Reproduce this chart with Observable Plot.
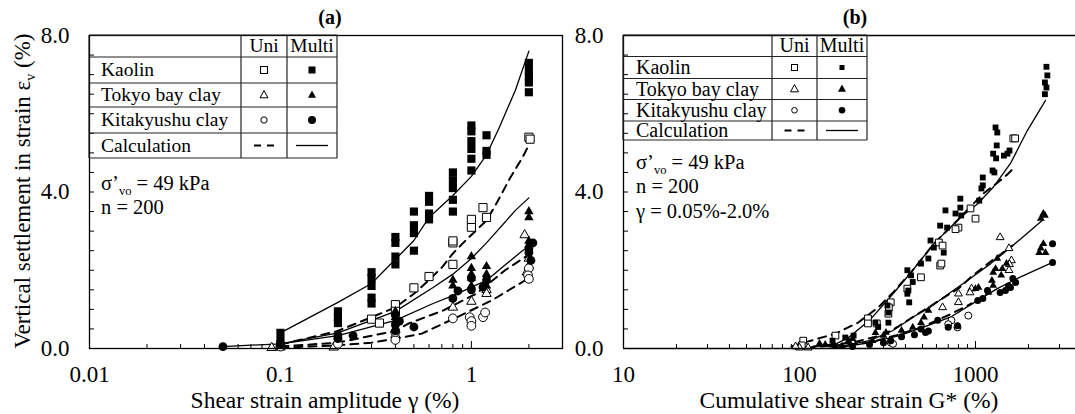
<!DOCTYPE html>
<html><head><meta charset="utf-8">
<script src="https://cdn.jsdelivr.net/npm/d3@7"></script>
<script src="https://cdn.jsdelivr.net/npm/@observablehq/plot@0.6"></script>
<style>
html,body{margin:0;padding:0;background:#fff;}
#wrap{position:relative;width:1075px;height:414px;overflow:hidden;background:#fff;}
#pa,#pb{position:absolute;top:0;}
#pa{left:0;} #pb{left:566px;}
svg{display:block;}
</style>
</head><body>
<div id="wrap"><div id="pa"></div><div id="pb"></div></div>
<script>
const FONT = '"Liberation Serif","Times New Roman",serif';

// ---------- Panel (a): shear strain amplitude (%) vs settlement (%) ----------
const aKaolinMulti = [[0.1,0.4],[0.1,0.2],[0.2,0.95],[0.2,0.8],[0.2,0.65],
  [0.3,1.95],[0.3,1.8],[0.3,1.6],[0.3,1.3],[0.3,1.15],
  [0.4,2.85],[0.4,2.7],[0.4,2.35],[0.4,2.15],
  [0.5,3.5],[0.5,3.15],[0.5,2.95],[0.5,2.5],
  [0.6,3.9],[0.6,3.75],[0.6,3.45],[0.6,3.3],
  [0.8,4.5],[0.8,4.3],[0.8,4.1],[0.8,3.8],[0.8,3.5],
  [1.0,5.7],[1.0,5.55],[1.0,5.3],[1.0,5.1],[1.0,4.85],[1.0,4.55],
  [1.2,5.45],[1.2,5.05],[1.2,4.95],
  [2.0,7.3],[2.0,7.1],[2.0,6.95],[2.0,6.8],[2.0,6.55]];
const aKaolinUni = [[0.3,0.75],[0.33,0.65],[0.4,1.12],[0.4,0.95],[0.5,1.55],[0.6,1.84],
  [0.8,2.15],[0.8,2.7],[0.8,2.75],[1.0,3.1],[1.0,3.3],[1.15,3.6],[1.2,3.35],[2.0,5.4],[2.03,5.35]];
const aTokyoMulti = [[0.1,0.1],[0.1,0.15],[0.2,0.35],[0.2,0.3],[0.4,0.95],[0.4,0.8],[0.4,0.7],
  [0.8,1.6],[0.8,1.75],[1.0,2.35],[1.0,2.05],[1.0,1.9],[1.0,1.8],[1.0,1.6],
  [1.2,2.1],[1.2,1.9],[1.2,1.6],[2.0,3.5],[2.0,3.35],[2.0,2.75],[2.0,2.65]];
const aTokyoUni = [[0.09,0.02],[0.1,0.03],[0.19,0.03],[0.4,0.35],[0.8,1.05],[1.0,1.2],
  [1.2,1.5],[1.2,1.4],[1.9,2.9],[2.0,2.3],[2.0,2.1],[1.95,1.95]];
const aKitaMulti = [[0.05,0.05],[0.1,0.1],[0.1,0.15],[0.2,0.35],[0.2,0.25],[0.24,0.33],
  [0.4,0.85],[0.4,0.6],[0.4,0.45],[0.42,0.7],[0.5,0.55],[0.8,1.28],[0.85,1.47],
  [1.0,1.8],[1.0,1.5],[1.2,1.75],[1.15,1.57],[2.1,2.7],[2.0,2.55],[2.0,2.45],[2.05,2.25]];
const aKitaUni = [[0.1,0.05],[0.2,0.12],[0.4,0.22],[0.4,0.42],[0.8,0.77],
  [0.98,0.8],[1.0,0.7],[1.0,0.58],[1.15,0.8],[1.18,0.92],[2.0,2.05],[1.98,1.87],[2.0,1.78]];
const aCalcKaolinMulti = [[0.1,0.4],[0.2,1.18],[0.3,1.66],[0.5,2.76],[0.6,3.35],[0.8,3.91],
  [1.0,4.4],[1.2,4.95],[1.4,5.65],[1.7,6.6],[2.0,7.6]];
const aCalcKaolinUni = [[0.1,0.1],[0.2,0.45],[0.3,0.8],[0.4,1.05],[0.5,1.4],[0.6,1.75],[0.7,2.07],
  [0.8,2.43],[0.95,2.8],[1.2,3.27],[1.35,3.7],[1.6,4.37],[1.85,4.88],[2.0,5.2]];
const aCalcTokyoMulti = [[0.1,0.12],[0.2,0.4],[0.4,0.95],[0.63,1.56],[0.8,1.9],[1.0,2.3],
  [1.2,2.7],[1.7,3.53],[2.0,3.85]];
const aCalcTokyoUni = [[0.1,0.05],[0.2,0.15],[0.4,0.45],[0.47,0.64],[0.71,0.97],[1.06,1.4],[1.5,2.0],[2.0,2.4]];
const aCalcKitaMulti = [[0.05,0.05],[0.1,0.12],[0.2,0.33],[0.4,0.72],[0.63,1.15],[0.8,1.35],
  [1.2,1.74],[1.85,2.5],[2.0,2.6]];
const aCalcKitaUni = [[0.1,0.02],[0.2,0.08],[0.3,0.15],[0.4,0.25],[0.55,0.38],[0.84,0.8],
  [1.28,1.23],[1.85,1.7],[2.0,1.8]];

// ---------- Panel (b): cumulative shear strain G* (%) vs settlement (%) ----------
const bKaolinMulti = [[2530,7.2],[2560,6.98],[2480,6.8],[2530,6.67],[2480,6.5],
  [1300,5.65],[1330,5.52],[1320,5.19],[1260,4.98],[1310,4.86],[1520,4.98],[1560,5.06],[1450,4.93],
  [1250,4.55],[1280,4.5],[1100,4.37],[1100,4.17],[1080,4.09],[1050,3.78],
  [820,3.83],[675,3.53],[820,3.6],[770,3.45],[830,3.4],
  [630,3.14],[690,3.09],[555,2.76],[580,2.58],[660,2.45],[540,2.3],[490,2.17],[410,2.0],[430,1.87],
  [440,1.7],[410,1.4],[420,1.18],[415,1.48],
  [316,1.1],[320,0.92],[320,0.66],[270,0.66],[280,0.55],[203,0.33],[182,0.28],[154,0.2]];
const bKaolinUni = [[1640,5.37],[1680,5.37],[937,3.58],[1000,3.32],[800,3.09],[770,3.05],[620,2.71],
  [650,2.63],[630,2.12],[640,2.17],[490,1.82],[410,1.53],[330,1.18],[320,0.89],[322,1.05],
  [245,0.77],[245,0.64],[275,0.64],[160,0.33],[105,0.2],[103,0.08]];
const bTokyoMulti = [[2430,3.45],[2350,3.32],[2480,3.4],[2430,2.68],[2350,2.56],[2500,2.45],[2300,2.45],
  [1330,2.3],[1300,2.04],[1260,1.94],[1240,1.74],[1260,1.61],[1420,2.04],[1500,2.17],[1400,1.87],
  [1040,1.56],[1000,1.53],[1185,1.43],
  [540,0.97],[510,0.8],[490,0.66],[440,0.54],[380,0.46],[310,0.41],[300,0.33],[270,0.4],[260,0.2],
  [200,0.25],[190,0.2],[154,0.08],[130,0.13],[140,0.1],[160,0.05],[175,0.05]];
const bTokyoUni = [[1380,2.84],[1550,2.56],[1600,2.25],[1560,2.15],[1550,2.0],[950,1.53],[930,1.43],
  [800,1.4],[800,1.18],[650,1.05],[100,0.02],[112,0.02],[95,0.05]];
const bKitaMulti = [[2740,2.68],[2740,2.2],[1690,1.69],[1630,1.79],[1580,1.56],[1540,1.6],[1480,1.48],
  [1380,1.43],[1170,1.48],[1100,1.28],[1030,1.23],[700,0.54],[790,0.58],[610,0.72],[520,0.41],
  [490,0.5],[540,0.45],[450,0.35],[380,0.3],[330,0.2],[300,0.15],[250,0.1],[200,0.05]];
const bKitaUni = [[910,0.84],[730,0.72],[790,0.54],[700,0.62],[330,0.15],[340,0.12]];
const bCalcKaolinMulti = [[150,0.05],[190,0.28],[250,0.72],[340,1.4],[440,2.0],[580,2.68],[820,3.35],
  [1030,3.7],[1260,4.12],[1580,4.73],[1970,5.57],[2500,6.34]];
const bCalcKaolinUni = [[90,0.05],[106,0.15],[160,0.38],[215,0.66],[280,1.05],[340,1.43],[440,2.0],
  [580,2.68],[820,3.35],[1100,3.95],[1300,4.2],[1520,4.45],[1640,4.6]];
const bCalcTokyoMulti = [[160,0.02],[250,0.2],[340,0.46],[440,0.8],[550,1.05],[720,1.43],[900,1.74],
  [1220,2.17],[1580,2.58],[2430,3.3]];
const bCalcTokyoUni = [[100,0.02],[200,0.15],[300,0.35],[360,0.55],[440,0.8],[540,1.05],[660,1.3],
  [800,1.53],[940,1.82],[1200,2.2],[1620,2.63]];
const bCalcKitaMulti = [[170,0.02],[250,0.15],[370,0.33],[530,0.58],[720,0.8],[1030,1.23],[1330,1.53],
  [1730,1.79],[2740,2.2]];
const bCalcKitaUni = [[110,0.02],[250,0.15],[350,0.33],[500,0.55],[700,0.85],[950,1.15]];

// ---------- ticks ----------
const yLabelTicks = [0, 4, 8];
const yMinorTicks = d3.range(0, 8.001, 0.5);
const aMajorTicks = [0.01, 0.1, 1];
const aMinorTicks = [0.02,0.03,0.04,0.05,0.06,0.07,0.08,0.09,0.2,0.3,0.4,0.5,0.6,0.7,0.8,0.9,2,3];
const bMajorTicks = [10, 100, 1000];
const bMinorTicks = [20,30,40,50,60,70,80,90,200,300,400,500,600,700,800,900,2000,3000];

const X = d => d[0], Y = d => d[1];
const solid = {x: X, y: Y, stroke: "black", strokeWidth: 1.3};
const dashed = {x: X, y: Y, stroke: "black", strokeWidth: 2, strokeDasharray: "8,6"};

function seriesMarks(s, sz) {
  return [
    Plot.line(s.cKU, dashed), Plot.line(s.cTU, dashed), Plot.line(s.cSU, dashed),
    Plot.line(s.cKM, solid), Plot.line(s.cTM, solid), Plot.line(s.cSM, solid),
    Plot.dot(s.KU, {x: X, y: Y, symbol: "square", r: sz.sqo, fill: "white", stroke: "black", strokeWidth: 1}),
    Plot.dot(s.TU, {x: X, y: Y, symbol: "triangle", r: sz.tr, fill: "white", stroke: "black", strokeWidth: 1}),
    Plot.dot(s.SU, {x: X, y: Y, symbol: "circle", r: sz.ci, fill: "white", stroke: "black", strokeWidth: 1}),
    Plot.dot(s.KM, {x: X, y: Y, symbol: "square", r: sz.sqf, fill: "black"}),
    Plot.dot(s.TM, {x: X, y: Y, symbol: "triangle", r: sz.tr, fill: "black"}),
    Plot.dot(s.SM, {x: X, y: Y, symbol: "circle", r: sz.ci, fill: "black"})
  ];
}

const baseStyle = {fontFamily: FONT, fontSize: "23px", color: "black", background: "transparent", overflow: "visible"};

const plotA = Plot.plot({
  width: 566, height: 414, marginLeft: 89, marginRight: 4, marginTop: 35, marginBottom: 66,
  style: baseStyle,
  x: {type: "log", domain: [0.01, 3]},
  y: {domain: [0, 8]},
  marks: [
    Plot.axisY({ticks: yLabelTicks, tickFormat: d => d.toFixed(1), tickSize: 0, tickPadding: 20, label: null, fontSize: 23}),
    Plot.axisY({ticks: yMinorTicks, tickSize: -5, tickFormat: () => "", label: null}),
    Plot.axisX({ticks: aMajorTicks, tickFormat: d => String(d), tickSize: 0, tickPadding: 17, label: null, fontSize: 23}),
    Plot.axisX({ticks: aMinorTicks, tickSize: -4, tickFormat: () => "", label: null}),
    Plot.axisX({ticks: aMajorTicks, tickSize: -7, tickFormat: () => "", label: null}),
    ...seriesMarks({KU: aKaolinUni, TU: aTokyoUni, SU: aKitaUni, KM: aKaolinMulti, TM: aTokyoMulti, SM: aKitaMulti,
      cKU: aCalcKaolinUni, cTU: aCalcTokyoUni, cSU: aCalcKitaUni, cKM: aCalcKaolinMulti, cTM: aCalcTokyoMulti, cSM: aCalcKitaMulti},
      {sqo: 4.6, sqf: 4.6, tr: 3.5, ci: 4.4}),
    Plot.frame({stroke: "black", strokeWidth: 1.3})
  ]
});
document.getElementById("pa").appendChild(plotA);

const plotB = Plot.plot({
  width: 509, height: 414, marginLeft: 57, marginRight: 0, marginTop: 35, marginBottom: 66,
  style: baseStyle,
  x: {type: "log", domain: [10, 3700]},
  y: {domain: [0, 8]},
  marks: [
    Plot.axisY({ticks: yLabelTicks, tickFormat: d => d.toFixed(1), tickSize: 0, tickPadding: 20, label: null, fontSize: 23}),
    Plot.axisY({ticks: yMinorTicks, tickSize: -5, tickFormat: () => "", label: null}),
    Plot.axisX({ticks: bMajorTicks, tickFormat: d => String(d), tickSize: 0, tickPadding: 17, label: null, fontSize: 23}),
    Plot.axisX({ticks: bMinorTicks, tickSize: -4, tickFormat: () => "", label: null}),
    Plot.axisX({ticks: bMajorTicks, tickSize: -7, tickFormat: () => "", label: null}),
    ...seriesMarks({KU: bKaolinUni, TU: bTokyoUni, SU: bKitaUni, KM: bKaolinMulti, TM: bTokyoMulti, SM: bKitaMulti,
      cKU: bCalcKaolinUni, cTU: bCalcTokyoUni, cSU: bCalcKitaUni, cKM: bCalcKaolinMulti, cTM: bCalcTokyoMulti, cSM: bCalcKitaMulti},
      {sqo: 3.8, sqf: 3.3, tr: 2.9, ci: 3.5}),
    Plot.ruleY([0], {stroke: "black", strokeWidth: 1.3}),
    Plot.ruleY([8], {stroke: "black", strokeWidth: 1.3}),
    Plot.ruleX([10], {stroke: "black", strokeWidth: 1.3})
  ]
});
document.getElementById("pb").appendChild(plotB);

// ---------- overlay: titles, legends, annotations ----------
const ov = d3.select("#wrap").append("svg")
  .attr("width", 1075).attr("height", 414)
  .style("position", "absolute").style("left", "0px").style("top", "0px")
  .style("font-family", FONT).style("overflow", "visible");

const legendRows = ["Kaolin", "Tokyo bay clay", "Kitakyushu clay", "Calculation"];

function drawLegend(cfg) {
  const g = ov.append("g");
  const [x0, x1, x2, x3] = cfg.cols;
  const rows = cfg.rows;
  rows.forEach(y => g.append("line").attr("x1", x0).attr("x2", x3).attr("y1", y).attr("y2", y)
    .attr("stroke", "#222").attr("stroke-width", 1.2));
  [x0, x1, x2, x3].forEach(x => g.append("line").attr("x1", x).attr("x2", x).attr("y1", rows[0]).attr("y2", rows[rows.length - 1])
    .attr("stroke", "#222").attr("stroke-width", 1.2));
  const cu = (x1 + x2) / 2, cm = (x2 + x3) / 2;
  const mid = i => (rows[i] + rows[i + 1]) / 2;
  const fs = cfg.fs;
  g.append("text").attr("x", cu).attr("y", mid(0) + fs * 0.33).attr("text-anchor", "middle").attr("font-size", fs).text("Uni");
  g.append("text").attr("x", cm).attr("y", mid(0) + fs * 0.33).attr("text-anchor", "middle").attr("font-size", fs).text("Multi");
  legendRows.forEach((t, i) => g.append("text").attr("x", cfg.tx).attr("y", mid(i + 1) + fs * 0.33).attr("font-size", fs).text(t));
  const m = cfg.m;
  let y = mid(1);
  g.append("rect").attr("x", cu - m.sqo / 2).attr("y", y - m.sqo / 2).attr("width", m.sqo).attr("height", m.sqo).attr("fill", "white").attr("stroke", "black");
  g.append("rect").attr("x", cm - m.sqf / 2).attr("y", y - m.sqf / 2).attr("width", m.sqf).attr("height", m.sqf).attr("fill", "black");
  y = mid(2);
  const tri = (cx, cy, s) => `M${cx},${cy - s * 0.55}L${cx + s / 2},${cy + s * 0.35}L${cx - s / 2},${cy + s * 0.35}Z`;
  g.append("path").attr("d", tri(cu, y, m.tr)).attr("fill", "white").attr("stroke", "black");
  g.append("path").attr("d", tri(cm, y, m.tr)).attr("fill", "black");
  y = mid(3);
  g.append("circle").attr("cx", cu).attr("cy", y).attr("r", m.cio).attr("fill", "white").attr("stroke", "black");
  g.append("circle").attr("cx", cm).attr("cy", y).attr("r", m.cif).attr("fill", "black");
  y = mid(4);
  g.append("line").attr("x1", cu - 10).attr("x2", cu + 10).attr("y1", y).attr("y2", y)
    .attr("stroke", "black").attr("stroke-width", 2.2).attr("stroke-dasharray", "7,6");
  g.append("line").attr("x1", cm - 16).attr("x2", cm + 16).attr("y1", y).attr("y2", y)
    .attr("stroke", "black").attr("stroke-width", 1.3);
}

drawLegend({cols: [89, 241, 287, 337], rows: [35, 57, 83, 107, 133, 158], tx: 101, fs: 19.5,
  m: {sqo: 7, sqf: 7, tr: 8, cio: 3.2, cif: 4}});
drawLegend({cols: [623, 772, 817, 867], rows: [35, 56.5, 78.5, 99.5, 121, 140], tx: 636, fs: 20,
  m: {sqo: 6, sqf: 5, tr: 8, cio: 2.8, cif: 3.3}});

function sigmaLine(x, y) {
  const t = ov.append("text").attr("x", x).attr("y", y).attr("font-size", 20.5);
  t.append("tspan").text("σ’");
  t.append("tspan").attr("font-size", 12.5).attr("dy", 5).text("vo");
  t.append("tspan").attr("dy", -5).text(" = 49 kPa");
}
sigmaLine(101, 190);
ov.append("text").attr("x", 101).attr("y", 214).attr("font-size", 20.5).text("n = 200");
sigmaLine(636, 169);
ov.append("text").attr("x", 636).attr("y", 193).attr("font-size", 20.5).text("n = 200");
ov.append("text").attr("x", 636).attr("y", 218).attr("font-size", 20.5).text("γ = 0.05%-2.0%");

ov.append("text").attr("x", 330).attr("y", 24).attr("text-anchor", "middle").attr("font-size", 20).attr("font-weight", "bold").text("(a)");
ov.append("text").attr("x", 855).attr("y", 24).attr("text-anchor", "middle").attr("font-size", 20).attr("font-weight", "bold").text("(b)");

ov.append("text").attr("x", 325).attr("y", 408).attr("text-anchor", "middle").attr("font-size", 23.5).text("Shear strain amplitude γ (%)");
ov.append("text").attr("x", 849).attr("y", 408).attr("text-anchor", "middle").attr("font-size", 23.5).text("Cumulative shear strain G* (%)");
const yt = ov.append("text").attr("transform", "translate(30,191) rotate(-90)").attr("text-anchor", "middle").attr("font-size", 23);
yt.append("tspan").text("Vertical settlement in strain ε");
yt.append("tspan").attr("font-size", 14).attr("dy", 5).text("v");
yt.append("tspan").attr("dy", -5).text(" (%)");
</script>
</body></html>
